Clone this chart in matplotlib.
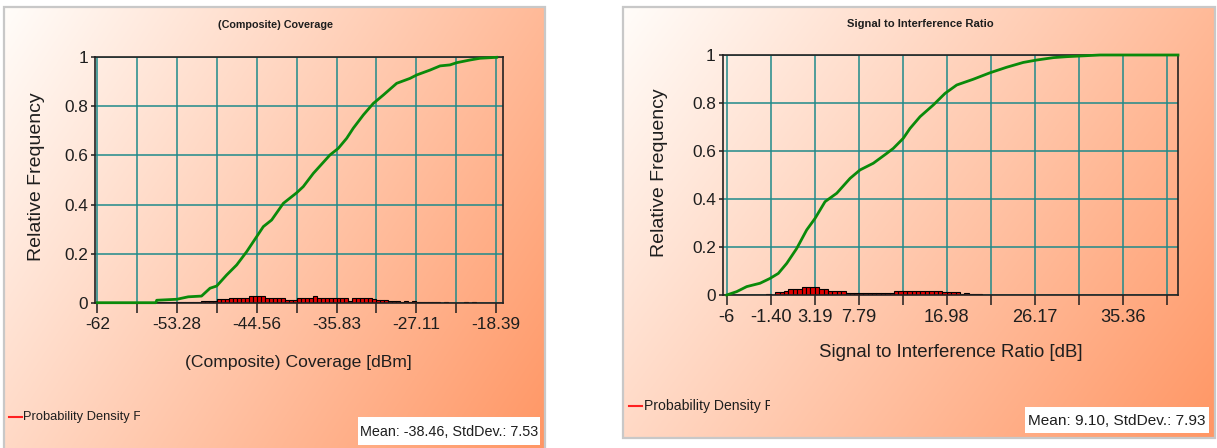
import numpy as np
import matplotlib
matplotlib.use("Agg")
import matplotlib.pyplot as plt
from matplotlib import font_manager
from matplotlib.patches import Rectangle
from matplotlib.lines import Line2D
from matplotlib.transforms import Bbox

# ---- data ----
cov_ticks = [-62 + k * 4.361 for k in range(11)]
cov_tick_labels = ["-62", "", "-53.28", "", "-44.56", "", "-35.83", "", "-27.11", "", "-18.39"]
cov_cdf_x = [-62, -55.6, -55.5, -53.3, -52.05, -50.6, -49.67, -48.94, -47.85, -46.75, -45.66,
             -44.57, -43.84, -42.93, -41.65, -40.19, -39.47, -38.37, -36.55, -35.64, -34.72,
             -34.0, -32.9, -31.81, -30.72, -29.25, -27.8, -27.06, -25.6, -24.5, -23.42,
             -22.69, -21.23, -20.14, -18.31]
cov_cdf_y = [0, 0, 0.01, 0.014, 0.024, 0.027, 0.059, 0.068, 0.113, 0.154, 0.208,
             0.269, 0.31, 0.337, 0.405, 0.448, 0.473, 0.527, 0.602, 0.629, 0.67,
             0.711, 0.765, 0.812, 0.846, 0.894, 0.914, 0.928, 0.948, 0.965, 0.969,
             0.978, 0.989, 0.996, 1.0]
cov_pdf = [0] * 15 + [0.002] * 11 + [0.008] * 4 + [0.014] * 3 + [0.02] * 5 + [0.027] * 4 \
    + [0.02] * 5 + [0.011] * 3 + [0.02] * 4 + [0.027] + [0.02] * 8 + [0.005] + [0.02] * 5 \
    + [0.017] + [0.013] * 3 + [0.008, 0.006, 0.008, 0.004, 0.008, 0.004, 0.006] \
    + [0.003] * 6 + [0, 0.003, 0, 0, 0, 0, 0.003, 0, 0.003] + [0] * 5
cov_bin_start, cov_bin_w = -62, 0.4361

sir_ticks = [-6 + k * 4.596 for k in range(11)]
sir_tick_labels = ["-6", "-1.40", "3.19", "7.79", "", "16.98", "", "26.17", "", "35.36", ""]
sir_cdf_x = [-6, -4.96, -3.91, -2.52, -1.48, -0.61, 0.27, 1.31, 2.35, 3.22, 4.27, 5.49,
             6.88, 7.92, 9.31, 10.71, 11.4, 12.44, 13.14, 14.19, 15.58, 16.8, 18.02, 19.75,
             21.5, 23.24, 24.97, 26.37, 28.11, 29.5, 32.98, 41.13]
sir_cdf_y = [0, 0.014, 0.035, 0.049, 0.069, 0.09, 0.132, 0.194, 0.271, 0.319, 0.389, 0.424,
             0.486, 0.521, 0.549, 0.59, 0.611, 0.653, 0.694, 0.743, 0.792, 0.84, 0.875, 0.899,
             0.926, 0.949, 0.969, 0.979, 0.989, 0.993, 1.0, 1.0]
sir_pdf = [0.002] * 9 + [0.004, 0.002] + [0.011] * 2 + [0.018] + [0.025] * 3 + [0.033] * 4 \
    + [0.025] * 2 + [0.018] * 4 + [0.01] * 11 + [0.018] * 11 + [0.011] * 4 + [0.003, 0.01] \
    + [0.003] * 3 + [0.002] * 11 + [0] * 31
sir_bin_start, sir_bin_w = -6, 0.4596

yticks = [0, 0.2, 0.4, 0.6, 0.8, 1]
ytick_labels = ["0", "0.2", "0.4", "0.6", "0.8", "1"]

W, H = 1217, 448
names = {f.name for f in font_manager.fontManager.ttflist}
if "Liberation Sans Narrow" in names:
    NARROW, scale = "Liberation Sans Narrow", 1.0
else:
    NARROW, scale = "Liberation Sans", 0.84
REG = "Liberation Sans"
INK = "#1e1e1e"

fig = plt.figure(figsize=(W / 100, H / 100), dpi=100)
fig.patch.set_facecolor("white")


def fx(px):
    return px / W


def fy(py):
    return 1 - py / H


def panel(x0, y0, x1, y1):
    bg = fig.add_axes([fx(x0), fy(y1), fx(x1 - x0), (y1 - y0) / H], zorder=0)
    u = np.linspace(0, 1, 300)[None, :]
    v = np.linspace(0, 1, 200)[:, None]
    t = 0.65 * u + 0.35 * v
    c0 = np.array([255, 253, 250]) / 255
    c1 = np.array([255, 150, 100]) / 255
    img = c0 + t[..., None] * (c1 - c0)
    bg.imshow(img, extent=[0, 1, 0, 1], aspect="auto", origin="upper")
    bg.set_xlim(0, 1)
    bg.set_ylim(0, 1)
    bg.axis("off")
    fig.patches.append(Rectangle((fx(x0), fy(y1)), fx(x1 - x0), (y1 - y0) / H,
                                 transform=fig.transFigure, fill=False,
                                 edgecolor="#c8c8c8", lw=1.6, zorder=0.5))


def chart(rect, xlim, ticks, tlabels, cdf_x, cdf_y, pdf, b0, bw, fs):
    ax = fig.add_axes(rect, zorder=1)
    ax.set_facecolor("none")
    ax.set_xlim(*xlim)
    ax.set_ylim(0, 1)
    ax.set_xticks(ticks)
    ax.set_xticklabels(tlabels)
    ax.set_yticks(yticks)
    ax.set_yticklabels(ytick_labels)
    ax.grid(True, color="#1f8a8a", lw=1.1, zorder=0)
    ax.set_axisbelow(True)
    for s in ax.spines.values():
        s.set_color("#222222")
        s.set_linewidth(1.2)
    ax.tick_params(axis="x", direction="out", length=7, width=1.1, pad=3,
                   labelsize=14.8 * scale * fs, colors=INK)
    ax.tick_params(axis="y", direction="out", length=3, width=1.1, pad=2,
                   labelsize=14.8 * scale, colors=INK)
    for lab in ax.get_xticklabels() + ax.get_yticklabels():
        lab.set_fontfamily(NARROW)
    pdf = np.array(pdf)
    left = b0 + bw * np.arange(len(pdf))
    keep = pdf > 0
    ax.bar(left[keep], pdf[keep], width=bw, align="edge", color="#e00000",
           edgecolor="black", lw=0.8, zorder=2)
    ax.plot(cdf_x, cdf_y, color="#0a8a0a", lw=2.0, zorder=3, clip_on=False)
    return ax


# left panel
panel(4, 7, 545, 452)
chart([fx(95.3), fy(302.7), fx(503 - 95.3), 245.4 / H], (-62.22, -17.62),
      cov_ticks, cov_tick_labels, cov_cdf_x, cov_cdf_y, cov_pdf, cov_bin_start, cov_bin_w, 1.0)
fig.text(fx(276), fy(25), "(Composite) Coverage", ha="center", va="center",
         fontsize=9.2 * scale, fontweight="bold", family=NARROW, color=INK)
fig.text(fx(37), fy(177), "Relative Frequency", ha="center", va="center", rotation=90,
         fontsize=14, family=REG, color=INK)
fig.text(fx(298), fy(362), "(Composite) Coverage [dBm]", ha="center", va="center",
         fontsize=15 * scale, family=NARROW, color=INK)

# right panel
panel(623, 7, 1215, 438)
chart([fx(722.7), fy(295), fx(1178 - 722.7), 240 / H], (-6.42, 41.13),
      sir_ticks, sir_tick_labels, sir_cdf_x, sir_cdf_y, sir_pdf, sir_bin_start, sir_bin_w, 1.06)
fig.text(fx(920), fy(24), "Signal to Interference Ratio", ha="center", va="center",
         fontsize=9.7 * scale, fontweight="bold", family=NARROW, color=INK)
fig.text(fx(660), fy(173), "Relative Frequency", ha="center", va="center", rotation=90,
         fontsize=14, family=REG, color=INK)
fig.text(fx(951), fy(352), "Signal to Interference Ratio [dB]", ha="center", va="center",
         fontsize=16 * scale, family=NARROW, color=INK)

# legends (text cut off as in the original) and stats boxes
for lx, ly, clip_x, lfs in [(8.5, 417, 140, 11.1), (629, 406, 770, 12.0)]:
    fig.lines.append(Line2D([fx(lx), fx(lx + 13)], [fy(ly), fy(ly)], transform=fig.transFigure,
                            color="#ff2020", lw=1.5))
    t = fig.text(fx(lx + 14.5), fy(ly), "Probability Density Function", ha="left", va="center",
                 fontsize=lfs * scale, family=NARROW, color=INK)
    t.set_clip_box(Bbox.from_extents(0, 0, clip_x, H))
    t.set_clip_on(True)

for bx0, by0, bx1, by1, txt, bfs in [(358, 417, 540, 445, "Mean: -38.46, StdDev.: 7.53", 12.3),
                                     (1025, 407, 1209, 433, "Mean: 9.10, StdDev.: 7.93", 13.2)]:
    fig.patches.append(Rectangle((fx(bx0), fy(by1)), fx(bx1 - bx0), (by1 - by0) / H,
                                 transform=fig.transFigure, facecolor="white",
                                 edgecolor="none", zorder=2))
    fig.text(fx((bx0 + bx1) / 2), fy((by0 + by1) / 2 + 1), txt, ha="center", va="center",
             fontsize=bfs * scale, family=NARROW, color=INK, zorder=3)

fig.savefig("out.png", dpi=100)
